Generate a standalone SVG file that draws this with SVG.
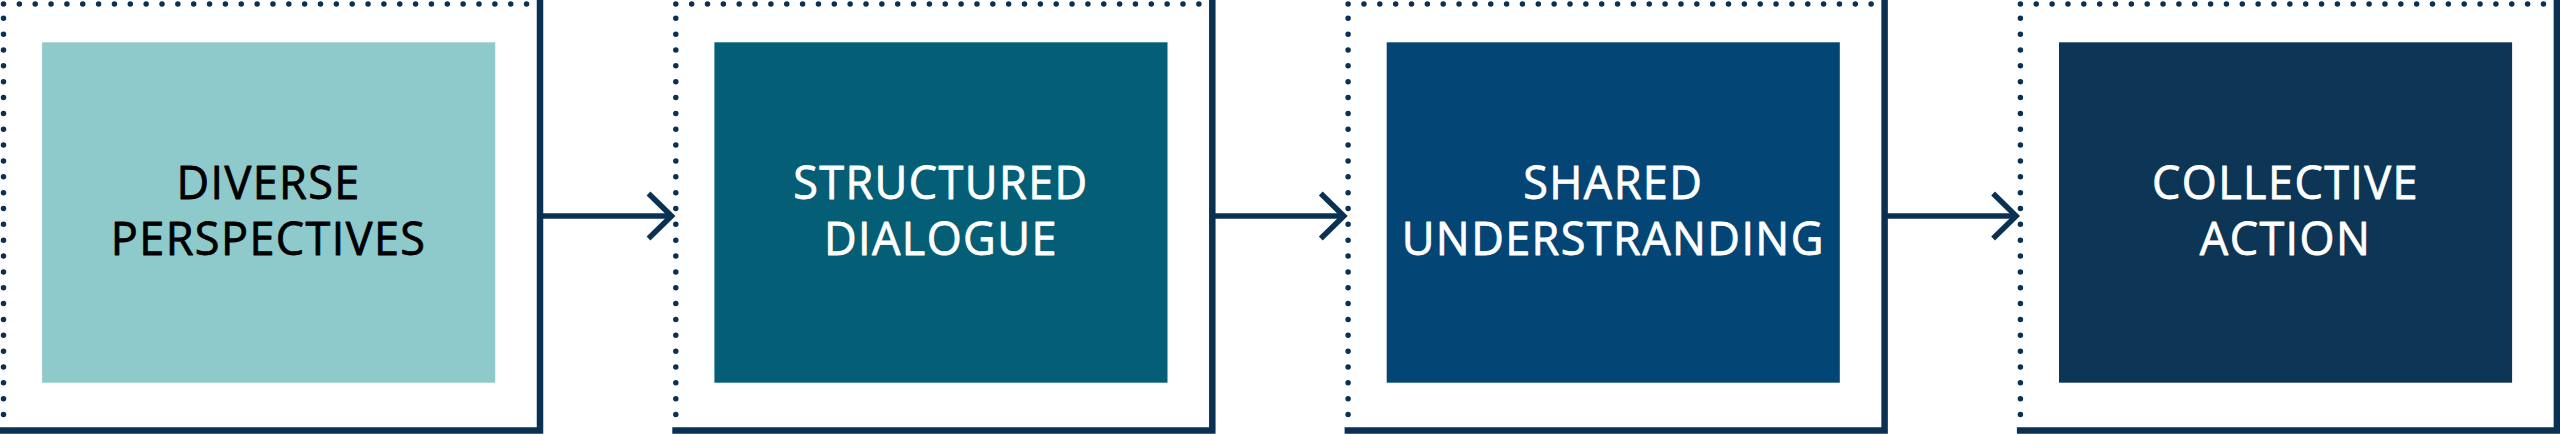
<svg xmlns="http://www.w3.org/2000/svg" width="2560" height="434" viewBox="0 0 2560 434">
<style>
.bg{fill:#ffffff}
.dots{fill:none;stroke:#0b3152;stroke-width:5.5;stroke-linecap:round;stroke-dasharray:0 15.85}
.frame{fill:none;stroke:#0b3152;stroke-width:6.5;stroke-linejoin:miter}
.lbl{font-family:"Open Sans","Noto Sans","Liberation Sans",sans-serif;font-size:45px;letter-spacing:1.4px;text-anchor:middle;stroke-width:0.8px;stroke-linejoin:round}
.dark{fill:#000000;stroke:#000000}
.light{fill:#ffffff;stroke:#ffffff}
.conn{fill:none;stroke:#0b3152;stroke-width:5.5;stroke-linejoin:miter}
</style>
<rect class="bg" x="0" y="0" width="2560" height="434"/>
<g id="node-diverse">
<path class="dots" d="M3.5,18.3 V414.6"/>
<path class="dots" d="M3.5,4 H527.7"/>
<path class="frame" d="M0,430.5 H540 V0"/>
<rect x="42.1" y="42.3" width="453.1" height="340.4" fill="#8ecacb"/>
<text class="lbl dark" x="268.6" y="199">DIVERSE</text>
<text class="lbl dark" x="268.6" y="255">PERSPECTIVES</text>
</g>
<g id="node-structured">
<path class="dots" d="M675.8,18.3 V414.6"/>
<path class="dots" d="M675.8,4 H1200"/>
<path class="frame" d="M672.3,430.5 H1212.3 V0"/>
<rect x="714.4" y="42.3" width="453.1" height="340.4" fill="#045e75"/>
<text class="lbl light" x="940.9" y="199">STRUCTURED</text>
<text class="lbl light" x="940.9" y="255">DIALOGUE</text>
</g>
<g id="node-shared">
<path class="dots" d="M1348.1,18.3 V414.6"/>
<path class="dots" d="M1348.1,4 H1872.3"/>
<path class="frame" d="M1344.6,430.5 H1884.6 V0"/>
<rect x="1386.7" y="42.3" width="453.1" height="340.4" fill="#034675"/>
<text class="lbl light" x="1613.2" y="199">SHARED</text>
<text class="lbl light" x="1613.2" y="255">UNDERSTRANDING</text>
</g>
<g id="node-collective">
<path class="dots" d="M2020.4,18.3 V414.6"/>
<path class="dots" d="M2020.4,4 H2544.6"/>
<path class="frame" d="M2016.9,430.5 H2556.9 V0"/>
<rect x="2059" y="42.3" width="453.1" height="340.4" fill="#0c3556"/>
<text class="lbl light" x="2285.5" y="199">COLLECTIVE</text>
<text class="lbl light" x="2285.5" y="255">ACTION</text>
</g>
<g id="connectors">
<path class="conn" d="M540,216 H671"/>
<path class="conn" d="M648.5,193.5 L671.5,216 L648.5,238.5"/>
<path class="conn" d="M1212.3,216 H1343.3"/>
<path class="conn" d="M1320.8,193.5 L1343.8,216 L1320.8,238.5"/>
<path class="conn" d="M1884.6,216 H2015.6"/>
<path class="conn" d="M1993.1,193.5 L2016.1,216 L1993.1,238.5"/>
</g>
</svg>
